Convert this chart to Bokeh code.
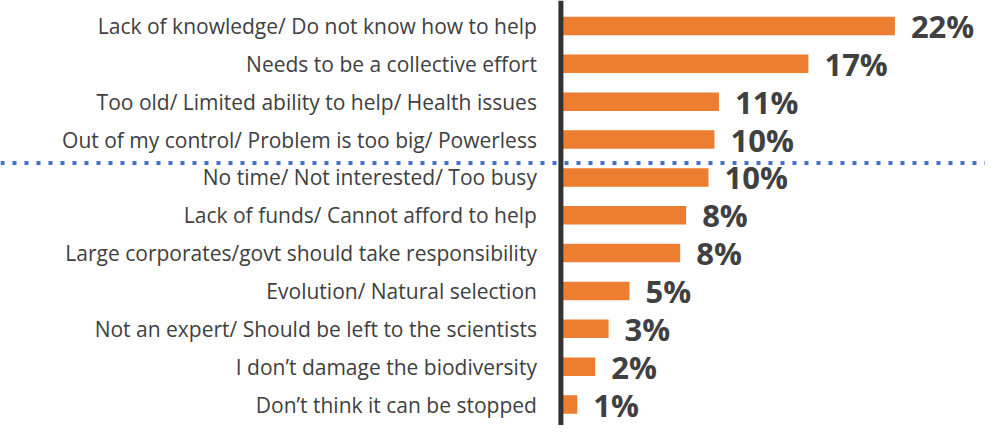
from bokeh.plotting import figure
from bokeh.models import ColumnDataSource, Span, Range1d
from bokeh.core.properties import value
from bokeh.embed import file_html
from bokeh.resources import INLINE

categories = [
    "Lack of knowledge/ Do not know how to help",
    "Needs to be a collective effort",
    "Too old/ Limited ability to help/ Health issues",
    "Out of my control/ Problem is too big/ Powerless",
    "No time/ Not interested/ Too busy",
    "Lack of funds/ Cannot afford to help",
    "Large corporates/govt should take responsibility",
    "Evolution/ Natural selection",
    "Not an expert/ Should be left to the scientists",
    "I don\u2019t damage the biodiversity",
    "Don\u2019t think it can be stopped",
]
values = [22.4, 16.6, 10.6, 10.3, 9.9, 8.4, 8.0, 4.6, 3.2, 2.3, 1.1]
labels = ["22%", "17%", "11%", "10%", "10%", "8%", "8%", "5%", "3%", "2%", "1%"]
separator_after = 3.62  # dotted divider between the top four and the rest

src = ColumnDataSource(dict(
    idx=list(range(len(categories))),
    cat=categories,
    val=values,
    lab=labels,
))

W, H = 985, 425
px_per_unit = 14.91
origin = 560.4
row_px = 37.85
first_center = 25.5

p = figure(
    width=W, height=H,
    output_backend="svg", toolbar_location=None,
    x_range=Range1d(-origin / px_per_unit, (W - origin) / px_per_unit),
    y_range=Range1d((H - first_center) / row_px, -first_center / row_px),
    min_border=0, outline_line_color=None,
    x_axis_location=None, y_axis_location=None,
)
p.xgrid.visible = False
p.ygrid.visible = False
p.background_fill_color = "white"
p.border_fill_color = "white"

p.hbar(y="idx", left=0, right="val", height=0.49, source=src,
       fill_color="#ED7D31", line_color=None)

p.text(x=0, y="idx", text="cat", source=src, x_offset=-24,
       text_align="right", text_baseline="middle",
       text_font=value("Open Sans"), text_font_size="21px",
       text_color="#404040")

p.text(x="val", y="idx", text="lab", source=src, x_offset=16,
       text_align="left", text_baseline="middle",
       text_font=value("Open Sans"), text_font_style="bold",
       text_font_size="31px", text_color="#404040")

p.add_layout(Span(location=separator_after, dimension="width",
                  line_color="#4472C4", line_width=4, line_dash="4 8"))
p.add_layout(Span(location=0, dimension="height",
                  line_color="#333333", line_width=5))

open("out.html", "w").write(file_html(p, INLINE))
